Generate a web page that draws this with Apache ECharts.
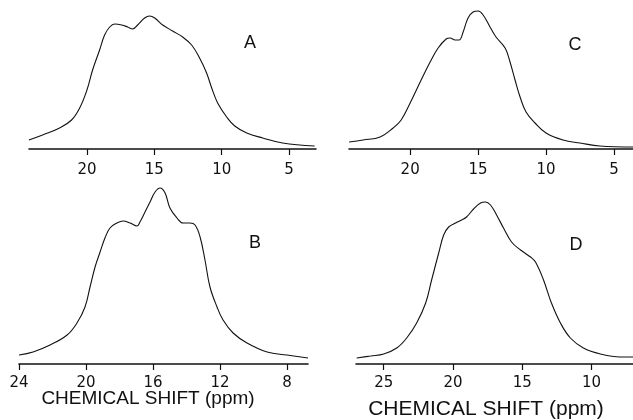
<!DOCTYPE html>
<html>
<head>
<meta charset="utf-8">
<script src="https://cdn.jsdelivr.net/npm/echarts@6/dist/echarts.min.js"></script>
<style>
  html, body { margin: 0; padding: 0; background: #fff; }
  #chart { width: 633px; height: 420px; }
</style>
</head>
<body>
<div id="chart"></div>
<script>
// spectra: chemical shift (ppm) and intensity (a.u.)
var aShift = [24.31, 23.29, 22.03, 21.14, 20.54, 20.0, 19.58, 19.06, 18.69, 18.31, 17.94, 17.42, 16.98, 16.61, 16.24, 15.72, 15.35, 14.97, 14.38, 13.64, 12.90, 12.23, 11.64, 11.12, 10.74, 10.30, 9.63, 9.03, 8.14, 6.96, 5.48, 3.1];
var aInt   = [9, 14, 21, 29, 41, 59, 79, 99, 114, 122, 125, 124, 122, 120, 124, 131, 133, 131, 124, 118, 112, 104, 91, 76, 61, 46, 32, 23, 16, 11, 6, 3];

var bShift = [24.0, 23.16, 22.15, 21.13, 20.54, 20.06, 19.76, 19.46, 19.16, 18.87, 18.57, 18.15, 17.79, 17.37, 16.96, 16.78, 16.48, 16.18, 15.88, 15.58, 15.28, 14.99, 14.57, 14.21, 13.79, 13.49, 13.19, 12.90, 12.60, 12.18, 11.82, 11.22, 10.39, 9.19, 8.0, 6.75];
var bInt   = [9, 12, 19, 29, 41, 57, 77, 97, 112, 126, 136, 141, 143, 141, 138, 142, 152, 162, 172, 176, 171, 156, 146, 141, 141, 139, 127, 104, 77, 57, 44, 31, 21, 12, 9, 6];

var cShift = [24.49, 23.46, 22.21, 21.25, 20.66, 20.0, 19.26, 18.53, 17.94, 17.35, 17.06, 16.69, 16.40, 16.10, 15.74, 15.37, 15.0, 14.63, 14.12, 13.68, 13.01, 12.65, 12.28, 11.91, 11.47, 10.81, 10.0, 8.75, 7.5, 6.03, 3.6];
var cInt   = [7, 9, 12, 21, 29, 46, 67, 87, 101, 110, 111, 109, 109, 117, 131, 137, 138, 134, 122, 112, 101, 87, 69, 52, 37, 26, 16, 9, 6, 3, 2];

var dShift = [26.95, 25.94, 25.0, 24.06, 23.34, 22.62, 21.97, 21.54, 21.03, 20.67, 20.31, 19.81, 19.38, 19.02, 18.51, 18.01, 17.65, 17.29, 16.85, 16.35, 15.77, 15.12, 14.40, 14.04, 13.46, 12.89, 12.24, 11.52, 10.58, 9.35, 7.91, 6.98];
var dInt   = [6, 8, 10, 16, 26, 41, 61, 84, 111, 129, 137, 141, 144, 147, 155, 161, 162, 159, 149, 136, 122, 114, 107, 102, 84, 61, 41, 26, 16, 10, 7, 7];

// tick labels
var aTicks = [20, 15, 10, 5];
var bTicks = [24, 20, 16, 12, 8];
var cTicks = [20, 15, 10, 5];
var dTicks = [25, 20, 15, 10];

var panelNames = ['A', 'B', 'C', 'D'];
var axisTitle = 'CHEMICAL SHIFT (ppm)';

function pairs(xs, ys) {
    var out = [];
    for (var i = 0; i < xs.length; i++) {
        out.push([xs[i], ys[i]]);
    }
    return out;
}

function shiftAxis(idx, min, max, ticks, margin) {
    return {
        type: 'value',
        gridIndex: idx,
        min: min,
        max: max,
        inverse: true,
        axisLine: { show: true, onZero: false, lineStyle: { color: '#111', width: 1.6 } },
        axisTick: { show: true, length: 6, customValues: ticks, lineStyle: { color: '#111', width: 1.2 } },
        axisLabel: { customValues: ticks, color: '#111', fontSize: 15, fontFamily: 'DejaVu Sans', margin: margin },
        splitLine: { show: false }
    };
}

function intAxis(idx, max) {
    return { type: 'value', gridIndex: idx, min: 0, max: max, show: false };
}

function spectrum(idx, data) {
    return {
        type: 'line',
        xAxisIndex: idx,
        yAxisIndex: idx,
        data: data,
        smooth: 0.4,
        showSymbol: false,
        lineStyle: { color: '#111', width: 1.1 }
    };
}

function label(text, x, y, size) {
    return {
        type: 'text',
        x: x,
        y: y,
        style: {
            text: text,
            fill: '#111',
            font: size + 'px "Liberation Sans", Arial, sans-serif',
            align: 'center',
            verticalAlign: 'middle',
            textAlign: 'center',
            textVerticalAlign: 'middle'
        }
    };
}

var chart = echarts.init(document.getElementById('chart'));
chart.setOption({
    backgroundColor: '#fff',
    animation: false,
    grid: [
        { left: 29, width: 287, top: 0, height: 149 },   // A
        { left: 19, width: 289, top: 184, height: 180 }, // B
        { left: 349, width: 284, top: 0, height: 149 },  // C
        { left: 356, width: 277, top: 184, height: 180 } // D
    ],
    xAxis: [
        shiftAxis(0, 3.0, 24.3, aTicks, 14),
        shiftAxis(1, 6.75, 24, bTicks, 12),
        shiftAxis(2, 3.6, 24.5, cTicks, 14),
        shiftAxis(3, 7.0, 27.0, dTicks, 12)
    ],
    yAxis: [intAxis(0, 149), intAxis(1, 180), intAxis(2, 149), intAxis(3, 180)],
    series: [
        spectrum(0, pairs(aShift, aInt)),
        spectrum(1, pairs(bShift, bInt)),
        spectrum(2, pairs(cShift, cInt)),
        spectrum(3, pairs(dShift, dInt))
    ],
    graphic: [
        label(panelNames[0], 250, 43, 18),
        label(panelNames[1], 255, 243, 18),
        label(panelNames[2], 575, 45, 18),
        label(panelNames[3], 576, 245, 18),
        label(axisTitle, 148, 399, 19),
        label(axisTitle, 486, 409, 21)
    ]
});
</script>
</body>
</html>
